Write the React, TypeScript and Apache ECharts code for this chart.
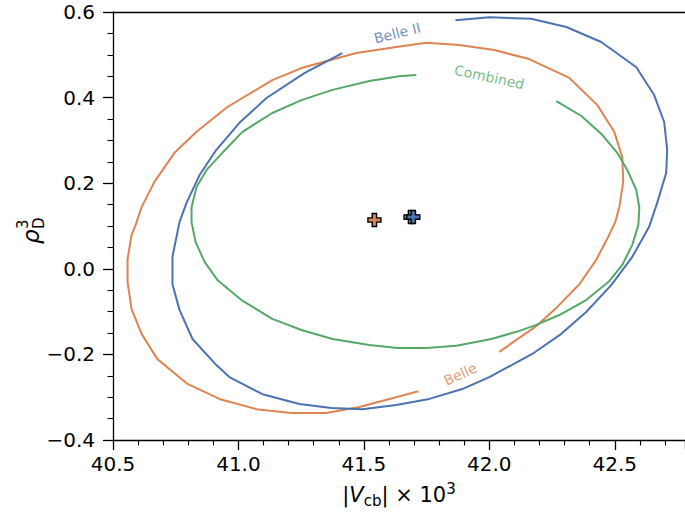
import React, { useEffect, useRef } from "react";
import * as echarts from "echarts";

const BLUE = "#4c72b0";
const ORANGE = "#dd8452";
const GREEN = "#55a868";

// Contours (|Vcb| x 1e3, rho_D^3)
const belleII: [number, number][] = [
  [41.865, 0.581], [42.0, 0.588], [42.167, 0.584], [42.307, 0.565], [42.446, 0.53],
  [42.586, 0.471], [42.657, 0.406], [42.697, 0.343], [42.709, 0.278], [42.705, 0.224],
  [42.669, 0.154], [42.637, 0.098], [42.57, 0.028], [42.486, -0.038], [42.386, -0.101],
  [42.287, -0.152], [42.171, -0.199], [42.0, -0.253], [41.892, -0.281], [41.761, -0.304],
  [41.629, -0.318], [41.494, -0.328], [41.371, -0.325], [41.243, -0.316], [41.096, -0.293],
  [40.964, -0.253], [40.912, -0.225], [40.817, -0.164], [40.765, -0.096], [40.737, -0.036],
  [40.737, 0.028], [40.765, 0.109], [40.793, 0.154], [40.845, 0.219], [40.912, 0.278],
  [41.004, 0.341], [41.112, 0.399], [41.263, 0.457], [41.414, 0.504],
];

const belle: [number, number][] = [
  [42.04, -0.194], [42.187, -0.134], [42.271, -0.089], [42.359, -0.036], [42.426, 0.021],
  [42.47, 0.07], [42.502, 0.109], [42.518, 0.144], [42.534, 0.203], [42.53, 0.261],
  [42.498, 0.32], [42.43, 0.383], [42.319, 0.446], [42.159, 0.49], [42.02, 0.511],
  [41.88, 0.523], [41.749, 0.528], [41.629, 0.518], [41.47, 0.504], [41.251, 0.469],
  [41.135, 0.441], [40.956, 0.378], [40.833, 0.32], [40.745, 0.271], [40.665, 0.203],
  [40.614, 0.144], [40.59, 0.102], [40.574, 0.079], [40.558, 0.023], [40.558, -0.031],
  [40.574, -0.094], [40.614, -0.152], [40.677, -0.211], [40.797, -0.269], [40.924, -0.304],
  [41.072, -0.328], [41.211, -0.337], [41.351, -0.337], [41.482, -0.323], [41.602, -0.304],
  [41.717, -0.286],
];

const combined: [number, number][] = [
  [42.267, 0.392], [42.367, 0.357], [42.45, 0.313], [42.51, 0.271], [42.55, 0.231],
  [42.586, 0.184], [42.598, 0.142], [42.594, 0.102], [42.57, 0.056], [42.53, 0.009],
  [42.478, -0.029], [42.386, -0.073], [42.279, -0.108], [42.187, -0.131], [42.12, -0.145],
  [42.008, -0.164], [41.869, -0.18], [41.749, -0.185], [41.633, -0.185], [41.522, -0.178],
  [41.375, -0.164], [41.251, -0.143], [41.135, -0.117], [41.012, -0.073], [40.916, -0.026],
  [40.865, 0.016], [40.829, 0.063], [40.813, 0.109], [40.813, 0.144], [40.833, 0.191],
  [40.873, 0.231], [40.936, 0.271], [41.016, 0.32], [41.135, 0.364], [41.251, 0.394],
  [41.375, 0.418], [41.522, 0.439], [41.641, 0.45], [41.709, 0.453],
];

// Best-fit points
const bestBelle: [number, number] = [41.542, 0.114];
const bestCombined: [number, number] = [41.686, 0.121];
const bestBelleII: [number, number] = [41.697, 0.121];

// Contour labels
const labelNames = ["Belle II", "Combined", "Belle"];
const labelPos: [number, number][] = [[41.633, 0.551], [42.0, 0.448], [41.884, -0.246]];
const labelRot = [14, -12, 25];
const labelColors = [BLUE, GREEN, ORANGE];

const X_MIN = 40.5;
const X_MAX = 42.78;
const Y_MIN = -0.4;
const Y_MAX = 0.6;

const FONT = "DejaVu Sans";
const PLUS = "path://M4,0L8,0L8,4L12,4L12,8L8,8L8,12L4,12L4,8L0,8L0,4L4,4Z";

const fmtY = (v: number) => {
  if (Math.abs(v) < 1e-9) return "0.0";
  return (v < 0 ? "\u2212" : "") + Math.abs(v).toFixed(1);
};

export default function App() {
  const ref = useRef<HTMLDivElement>(null);
  useEffect(() => {
    if (!ref.current) return;
    const chart = echarts.init(ref.current, null, { renderer: "svg" });
    const axisLine = { show: true, onZero: false, lineStyle: { color: "#000", width: 1.3 } };
    const lineSeries = (name: string, data: [number, number][], color: string) => ({
      name,
      type: "line",
      data,
      showSymbol: false,
      symbol: "none",
      silent: true,
      lineStyle: { color, width: 2 },
      itemStyle: { color },
      z: 2,
    });
    const bestSeries = (p: [number, number], color: string, z: number) => ({
      type: "scatter",
      data: [p],
      symbol: PLUS,
      symbolSize: 13,
      silent: true,
      itemStyle: { color, borderColor: "#000", borderWidth: 1.4, opacity: 1 },
      z,
    });
    chart.setOption({
      animation: false,
      backgroundColor: "#fff",
      textStyle: { fontFamily: FONT },
      grid: { left: 113, right: 0, top: 12, bottom: 78, containLabel: false },
      xAxis: [
        {
          type: "value",
          min: X_MIN,
          max: X_MAX,
          interval: 0.5,
          axisLine,
          axisTick: { show: true, length: 10, lineStyle: { color: "#000", width: 1.3 } },
          minorTick: { show: true, splitNumber: 5, length: 5.5, lineStyle: { color: "#000", width: 1.1 } },
          splitLine: { show: false },
          minorSplitLine: { show: false },
          axisLabel: {
            color: "#000",
            fontSize: 20,
            fontFamily: FONT,
            margin: 14,
            showMaxLabel: false,
            formatter: (v: number) => v.toFixed(1),
          },
          name: "|{i|V}{sub|cb}| \u00d7 10{sup|3}",
          nameLocation: "middle",
          nameGap: 41,
          nameTextStyle: {
            color: "#000",
            fontSize: 21,
            fontFamily: FONT,
            lineHeight: 27,
            rich: {
              i: { fontStyle: "italic", fontSize: 21, fontFamily: FONT, color: "#000", lineHeight: 27 },
              sub: { fontSize: 15, fontFamily: FONT, color: "#000", lineHeight: 15, verticalAlign: "bottom" },
              sup: { fontSize: 15, fontFamily: FONT, color: "#000", lineHeight: 9, verticalAlign: "top" },
            },
          },
        },
        {
          type: "value",
          position: "top",
          min: X_MIN,
          max: X_MAX,
          axisLine,
          axisTick: { show: false },
          axisLabel: { show: false },
          splitLine: { show: false },
        },
      ],
      yAxis: {
        type: "value",
        min: Y_MIN,
        max: Y_MAX,
        interval: 0.2,
        axisLine,
        axisTick: { show: true, length: 10, lineStyle: { color: "#000", width: 1.3 } },
        minorTick: { show: true, splitNumber: 4, length: 5.5, lineStyle: { color: "#000", width: 1.1 } },
        splitLine: { show: false },
        minorSplitLine: { show: false },
        axisLabel: { color: "#000", fontSize: 20, fontFamily: FONT, margin: 18, formatter: fmtY },
      },
      graphic: [
        {
          type: "group",
          x: 31,
          y: 244,
          rotation: Math.PI / 2,
          silent: true,
          children: [
            {
              type: "text",
              x: 0,
              y: 0,
              style: { text: "\u03c1", fontSize: 23, fontStyle: "italic", fontFamily: FONT, fill: "#000", align: "left", verticalAlign: "middle" },
            },
            {
              type: "text",
              x: 15,
              y: 8,
              style: { text: "D", fontSize: 15, fontFamily: FONT, fill: "#000", align: "left", verticalAlign: "middle" },
            },
            {
              type: "text",
              x: 15,
              y: -8,
              style: { text: "3", fontSize: 15, fontFamily: FONT, fill: "#000", align: "left", verticalAlign: "middle" },
            },
          ],
        },
      ],
      series: [
        lineSeries("Belle", belle, ORANGE),
        lineSeries("Belle II", belleII, BLUE),
        lineSeries("Combined", combined, GREEN),
        bestSeries(bestBelle, ORANGE, 5),
        bestSeries(bestCombined, GREEN, 5),
        bestSeries(bestBelleII, BLUE, 6),
        {
          type: "scatter",
          silent: true,
          symbolSize: 1,
          itemStyle: { color: "rgba(0,0,0,0)" },
          z: 4,
          data: labelNames.map((n, i) => ({
            name: n,
            value: labelPos[i],
            label: { rotate: labelRot[i], color: labelColors[i] },
          })),
          label: {
            show: true,
            position: "inside",
            formatter: "{b}",
            fontSize: 14,
            fontFamily: FONT,
          },
        },
      ],
    });
    return () => chart.dispose();
  }, []);
  return (
    <div
      ref={ref}
      style={{ position: "fixed", left: 0, top: 0, width: 685, height: 518, background: "#fff" }}
    />
  );
}
